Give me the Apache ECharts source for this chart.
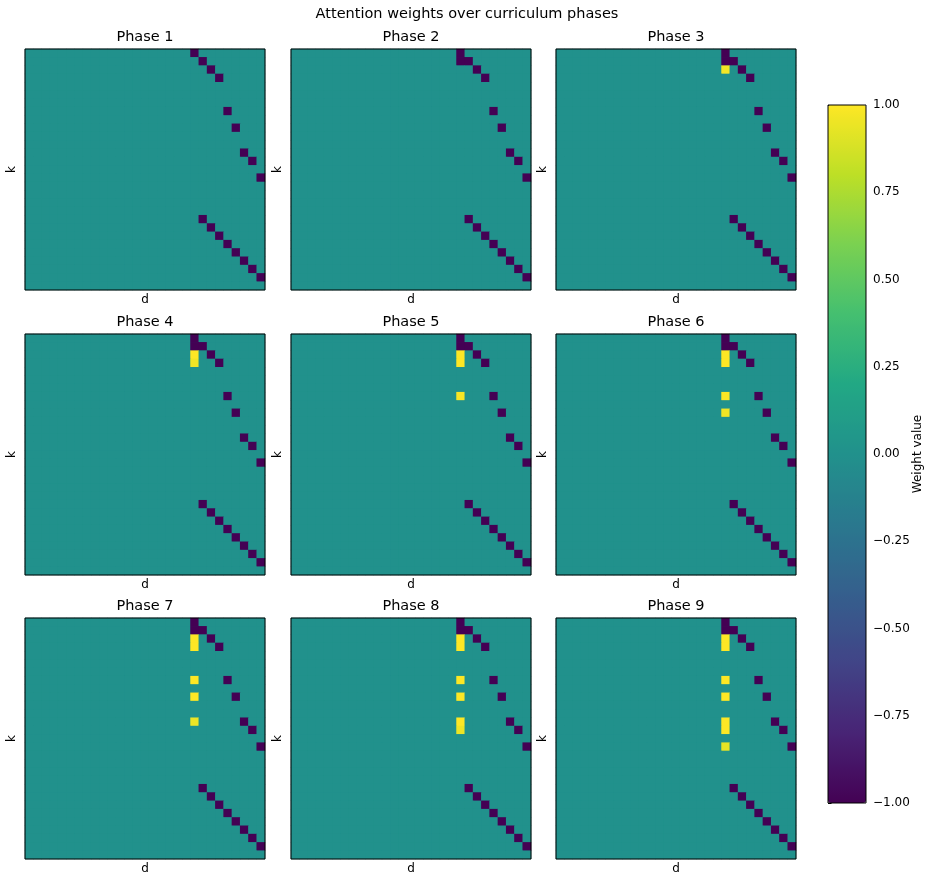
<!DOCTYPE html>
<html>
<head>
<meta charset="utf-8">
<script src="https://cdn.jsdelivr.net/npm/echarts@6/dist/echarts.min.js"></script>
<style>
html,body{margin:0;padding:0;background:#fff;}
#chart{width:932px;height:880px;}
</style>
</head>
<body>
<div id="chart"></div>
<script>
// ---- data ----
const N_ROWS = 29;
const N_COLS = 29;
const phaseNames = ['Phase 1','Phase 2','Phase 3','Phase 4','Phase 5','Phase 6','Phase 7','Phase 8','Phase 9'];
// dark (-1) cells present in every phase: [row, col, value]
const baseNegCells = [
  [0,20,-1],[1,21,-1],[2,22,-1],[3,23,-1],[7,24,-1],[9,25,-1],[12,26,-1],[13,27,-1],[15,28,-1],
  [20,21,-1],[21,22,-1],[22,23,-1],[23,24,-1],[24,25,-1],[25,26,-1],[26,27,-1],[27,28,-1]
];
// extra dark cells added per phase: [row, col, value]
const extraNegByPhase = [
  [],
  [[1,20,-1]],
  [[1,20,-1]],
  [[1,20,-1]],
  [[1,20,-1]],
  [[1,20,-1]],
  [[1,20,-1]],
  [[1,20,-1]],
  [[1,20,-1]]
];
// positive (yellow) cells per phase: [row, col, value]
const posByPhase = [
  [],
  [],
  [[2,20,0.97]],
  [[2,20,1.0],[3,20,0.96]],
  [[2,20,1.0],[3,20,1.0],[7,20,0.98]],
  [[2,20,1.0],[3,20,1.0],[7,20,1.0],[9,20,0.96]],
  [[2,20,1.0],[3,20,1.0],[7,20,1.0],[9,20,1.0],[12,20,0.95]],
  [[2,20,1.0],[3,20,1.0],[7,20,1.0],[9,20,1.0],[12,20,1.0],[13,20,0.95]],
  [[2,20,1.0],[3,20,1.0],[7,20,1.0],[9,20,1.0],[12,20,1.0],[13,20,1.0],[15,20,0.93]]
];
const colorbarTicks = [-1,-0.75,-0.5,-0.25,0,0.25,0.5,0.75,1];
const viridis = ['#440154','#482475','#414487','#355f8d','#2a788e','#21918c','#22a884','#44bf70','#7ad151','#bddf26','#fde725'];

// ---- layout ----
const FONT = 'DejaVu Sans';
const colLefts = [25, 291, 556];
const rowTops = [49, 334, 618];
const PW = 240, PH = 241;
const ZERO_COLOR = '#21918c';

const xCats = Array.from({length:N_COLS},(_,i)=>i);
const yCats = Array.from({length:N_ROWS},(_,i)=>i);

function buildMatrix(p){
  const m = [];
  for (let r=0;r<N_ROWS;r++) for (let c=0;c<N_COLS;c++) m.push([c,r,0]);
  const set = (r,c,v)=>{ m[r*N_COLS+c][2]=v; };
  baseNegCells.forEach(([r,c,v])=>set(r,c,v));
  extraNegByPhase[p].forEach(([r,c,v])=>set(r,c,v));
  posByPhase[p].forEach(([r,c,v])=>set(r,c,v));
  return m;
}

const grids=[], xAxes=[], yAxes=[], series=[], graphics=[];
for (let p=0;p<9;p++){
  const gc = p%3, gr = Math.floor(p/3);
  const left = colLefts[gc], top = rowTops[gr];
  grids.push({left:left, top:top, width:PW, height:PH, show:true, borderWidth:0, backgroundColor:ZERO_COLOR});
  xAxes.push({type:'category', gridIndex:p, data:xCats, axisLine:{show:false}, axisTick:{show:false}, axisLabel:{show:false}, splitLine:{show:false}});
  yAxes.push({type:'category', gridIndex:p, data:yCats, inverse:true, axisLine:{show:false}, axisTick:{show:false}, axisLabel:{show:false}, splitLine:{show:false}});
  series.push({type:'heatmap', xAxisIndex:p, yAxisIndex:p, data:buildMatrix(p), itemStyle:{borderWidth:0}, emphasis:{disabled:true}, progressive:0});
  // frame (spines)
  graphics.push({type:'rect', z:100, shape:{x:left, y:top, width:PW, height:PH}, style:{fill:null, stroke:'#000', lineWidth:1}});
  graphics.push({type:'text', x:left+PW/2, y:top-12, style:{text:phaseNames[p], font:'14.5px "DejaVu Sans"', fill:'#000', textAlign:'center', textVerticalAlign:'middle'}});
  graphics.push({type:'text', x:left+PW/2, y:top+PH+10, style:{text:'d', font:'12px "DejaVu Sans"', fill:'#000', textAlign:'center', textVerticalAlign:'middle'}});
  graphics.push({type:'text', x:left-13, y:top+PH/2, rotation:Math.PI/2, style:{text:'k', font:'12px "DejaVu Sans"', fill:'#000', textAlign:'center', textVerticalAlign:'middle'}});
}
graphics.push({type:'text', x:467, y:14, style:{text:'Attention weights over curriculum phases', font:'14.5px "DejaVu Sans"', fill:'#000', textAlign:'center', textVerticalAlign:'middle'}});
graphics.push({type:'text', x:918, y:454, rotation:Math.PI/2, style:{text:'Weight value', font:'12px "DejaVu Sans"', fill:'#000', textAlign:'center', textVerticalAlign:'middle'}});

// colorbar axis grid
const CB = {left:828, top:105, width:38, height:698};
grids.push({left:CB.left, top:CB.top, width:CB.width, height:CB.height, show:false});
xAxes.push({type:'value', gridIndex:9, show:false, min:0, max:1});
yAxes.push({type:'value', gridIndex:9, position:'right', min:colorbarTicks[0], max:colorbarTicks[colorbarTicks.length-1], interval:0.25,
  axisLine:{show:false}, splitLine:{show:false},
  axisTick:{show:true, length:3.5, lineStyle:{color:'#000'}},
  axisLabel:{show:true, margin:7, fontFamily:FONT, fontSize:12, color:'#000',
    formatter:v=>(v<0?'\u2212':'')+Math.abs(v).toFixed(2)}});
graphics.push({type:'rect', z:100, shape:{x:CB.left, y:CB.top, width:CB.width, height:CB.height}, style:{fill:null, stroke:'#000', lineWidth:1}});

const chart = echarts.init(document.getElementById('chart'), null, {renderer:'canvas'});
chart.setOption({
  backgroundColor:'#fff',
  animation:false,
  textStyle:{fontFamily:FONT},
  grid:grids, xAxis:xAxes, yAxis:yAxes,
  visualMap:{type:'continuous', min:-1, max:1, calculable:false, seriesIndex:[0,1,2,3,4,5,6,7,8],
    orient:'vertical', left:CB.left, top:CB.top, itemWidth:CB.width, itemHeight:CB.height, padding:0,
    inRange:{color:viridis}, text:null, showLabel:false},
  series:series,
  graphic:graphics
});
</script>
</body>
</html>
